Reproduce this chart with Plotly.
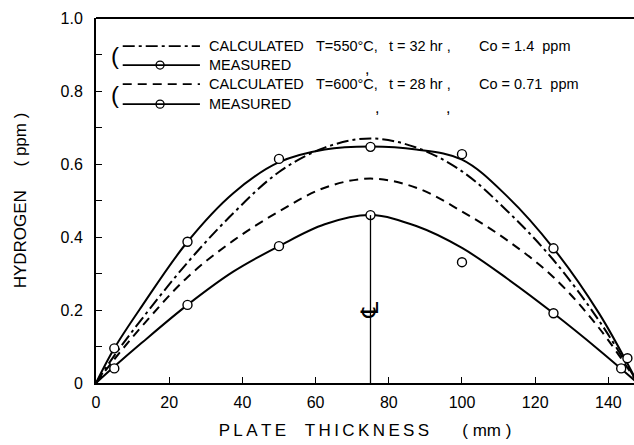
import plotly.graph_objects as go

# Calculated curves
calc550_x = [0, 5, 12.5, 25, 37.5, 50, 62.5, 75, 87.5, 100, 112.5, 125, 137.5, 148]
calc550_y = [0, 0.075, 0.175, 0.33, 0.465, 0.578, 0.645, 0.67, 0.645, 0.58, 0.47, 0.337, 0.17, 0]
calc600_x = [0, 5, 12.5, 25, 37.5, 50, 62.5, 75, 87.5, 100, 112.5, 125, 137.5, 148]
calc600_y = [0, 0.065, 0.155, 0.29, 0.39, 0.47, 0.535, 0.56, 0.535, 0.47, 0.39, 0.29, 0.15, 0]

# Measured: smooth drawn curves
meas550_curve_x = [0, 5, 12.5, 25, 37.5, 50, 62.5, 75, 87.5, 100, 112.5, 125, 137.5, 148]
meas550_curve_y = [0, 0.095, 0.21, 0.387, 0.52, 0.605, 0.64, 0.648, 0.64, 0.612, 0.51, 0.369, 0.19, 0]
meas600_curve_x = [0, 5, 12.5, 25, 37.5, 50, 62.5, 75, 87.5, 100, 112.5, 125, 137.5, 148]
meas600_curve_y = [0, 0.045, 0.11, 0.214, 0.305, 0.375, 0.435, 0.46, 0.43, 0.37, 0.285, 0.191, 0.09, 0]

# Measured points
meas550_x = [5, 25, 50, 75, 100, 125, 145.2]
meas550_y = [0.095, 0.387, 0.614, 0.647, 0.627, 0.369, 0.068]
meas600_x = [5, 25, 50, 75, 100, 125, 143.5]
meas600_y = [0.04, 0.214, 0.375, 0.46, 0.331, 0.191, 0.04]

xticks = [0, 20, 40, 60, 80, 100, 120, 140]
yticks = [0, 0.1, 0.2, 0.3, 0.4, 0.5, 0.6, 0.7, 0.8, 0.9, 1.0]
ytext = ["0", "", "0.2", "", "0.4", "", "0.6", "", "0.8", "", "1.0"]

FONT = "Liberation Sans, Arial, sans-serif"
K = "black"

fig = go.Figure()
fig.add_trace(go.Scatter(x=calc550_x, y=calc550_y, mode="lines", line_shape="spline",
                         line=dict(color=K, width=2, dash="12px,4px,3px,4px")))
fig.add_trace(go.Scatter(x=calc600_x, y=calc600_y, mode="lines", line_shape="spline",
                         line=dict(color=K, width=2, dash="9px,6px")))
fig.add_trace(go.Scatter(x=meas550_curve_x, y=meas550_curve_y, mode="lines", line_shape="spline",
                         line=dict(color=K, width=2)))
fig.add_trace(go.Scatter(x=meas600_curve_x, y=meas600_curve_y, mode="lines", line_shape="spline",
                         line=dict(color=K, width=2)))
fig.add_trace(go.Scatter(x=meas550_x, y=meas550_y, mode="markers",
                         marker=dict(symbol="circle", size=9, color="white", line=dict(color=K, width=1.4))))
fig.add_trace(go.Scatter(x=meas600_x, y=meas600_y, mode="markers",
                         marker=dict(symbol="circle", size=9, color="white", line=dict(color=K, width=1.4))))

# centre line
fig.add_shape(type="line", x0=75, x1=75, y0=0, y1=0.46, line=dict(color=K, width=1.3))
fig.add_annotation(x=75, y=0.2, text="℄", showarrow=False, textangle=-90,
                   font=dict(family="DejaVu Sans", size=24, color=K))

# top border
fig.add_shape(type="line", xref="paper", yref="paper", x0=0, x1=1, y0=1, y1=1,
              line=dict(color=K, width=2))

# manual legend
rows = [0.923, 0.871, 0.819, 0.764]
styles = ["12px,4px,3px,4px", "solid", "9px,6px", "solid"]
labels = ["CALCULATED", "MEASURED", "CALCULATED", "MEASURED"]
LF = dict(family=FONT, size=14.5, color=K)
PF = dict(family=FONT, size=14.5, color=K)
for r, st, lab in zip(rows, styles, labels):
    fig.add_shape(type="line", xref="x", yref="y", x0=7.3, x1=28.4, y0=r, y1=r,
                  line=dict(color=K, width=1.8, dash=st))
    fig.add_annotation(x=30.2, y=r, text=lab, showarrow=False, xanchor="left", font=LF)
for r in [rows[1], rows[3]]:
    fig.add_trace(go.Scatter(x=[17.5], y=[r], mode="markers",
                             marker=dict(symbol="circle", size=8, color="white", line=dict(color=K, width=1.3))))
for r in [(rows[0] + rows[1]) / 2, (rows[2] + rows[3]) / 2]:
    fig.add_annotation(x=5.2, y=r, text="(", showarrow=False,
                       font=dict(family=FONT, size=24, color=K))
parts1 = [(59.5, "T=550°C,"), (79.5, "t = 32 hr ,"), (104.0, "Co = 1.4  ppm")]
parts2 = [(59.5, "T=600°C,"), (79.5, "t = 28 hr ,"), (104.0, "Co = 0.71  ppm")]
for x, t in parts1:
    fig.add_annotation(x=x, y=rows[0], text=t, showarrow=False, xanchor="left", font=PF)
for x, t in parts2:
    fig.add_annotation(x=x, y=rows[2], text=t, showarrow=False, xanchor="left", font=PF)
for x, r in [(74.0, rows[1]), (76.8, rows[3]), (96.2, rows[3])]:
    fig.add_annotation(x=x, y=r - 0.008, text=",", showarrow=False,
                       font=dict(family=FONT, size=16, color=K))

th = "\u2009"
xtitle = th.join("PLATE") + "    " + th.join("THICKNESS") + "       ( mm )"
fig.update_layout(
    width=634, height=445,
    margin=dict(l=96, r=0, t=18, b=62),
    paper_bgcolor="white", plot_bgcolor="white",
    showlegend=False,
    font=dict(family=FONT, size=16, color=K),
)
fig.update_xaxes(range=[0, 147], tickvals=xticks, ticks="inside", ticklen=6, tickwidth=1.3,
                 tickcolor=K, showline=True, linecolor=K, linewidth=2, showgrid=False,
                 zeroline=False, tickfont=dict(size=16), ticklabelstandoff=4,
                 title=dict(text=xtitle, font=dict(size=17), standoff=14))
fig.update_yaxes(range=[0, 1.0], tickvals=yticks, ticktext=ytext, ticks="inside", ticklen=6,
                 tickwidth=1.3, tickcolor=K, showline=True, linecolor=K, linewidth=2,
                 showgrid=False, zeroline=False, tickfont=dict(size=16), ticklabelstandoff=8,
                 title=dict(text="HYDROGEN" + " " * 5 + "( ppm )", font=dict(size=17), standoff=30))

fig.write_html("out.html")
